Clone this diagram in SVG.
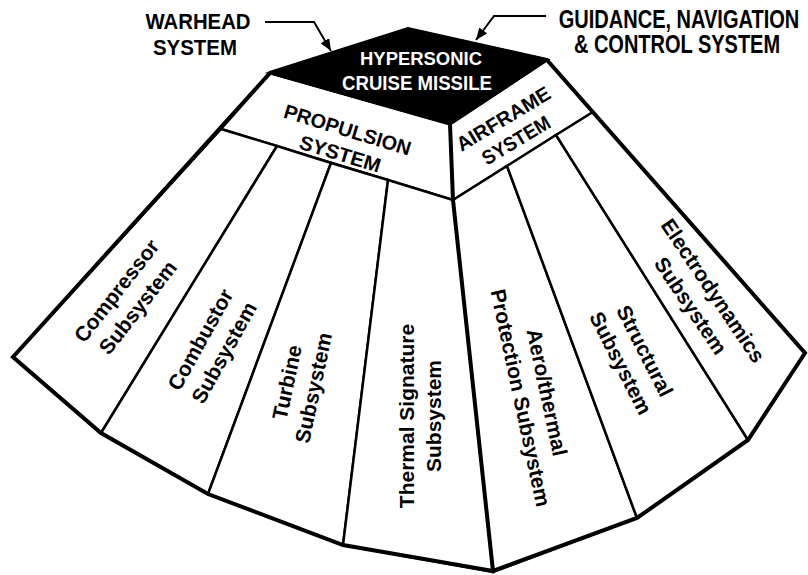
<svg xmlns="http://www.w3.org/2000/svg" width="808" height="575" viewBox="0 0 808 575">
<defs>
<style>
.region{fill:#fff;stroke:#000;stroke-width:2.5;stroke-linejoin:miter}
.hd{font-family:"Liberation Sans",Arial,sans-serif;font-weight:bold;fill:#000;text-anchor:middle}
.sub{font-family:"Liberation Sans",Arial,sans-serif;font-weight:bold;font-size:21px;fill:#000;text-anchor:middle}
.conn{fill:none;stroke:#000;stroke-width:2}
</style>
<marker id="ah" markerUnits="userSpaceOnUse" markerWidth="14" markerHeight="12" refX="12" refY="5" orient="auto">
<path d="M0,0 L12,5 L0,10 Z" fill="#000"/>
</marker>
</defs>
<rect width="808" height="575" fill="#fff"/>

<g id="propulsion">
<polygon class="region" points="270,73 450,124 453,200 221,129"/>
<g transform="translate(342,148) rotate(17)">
<text class="hd" font-size="20" x="0" y="-12" textLength="132" lengthAdjust="spacingAndGlyphs">PROPULSION</text>
<text class="hd" font-size="20" x="0" y="13" textLength="84" lengthAdjust="spacingAndGlyphs">SYSTEM</text>
</g>
</g>
<g id="airframe">
<polygon class="region" points="450,124 547,60 593,112 453,200"/>
<g transform="translate(513,135) rotate(-31)">
<text class="hd" font-size="20" x="0" y="-12" textLength="106" lengthAdjust="spacingAndGlyphs">AIRFRAME</text>
<text class="hd" font-size="20" x="0" y="13" textLength="76" lengthAdjust="spacingAndGlyphs">SYSTEM</text>
</g>
</g>
<g id="compressor">
<polygon class="region" points="221,129 277,146 101,433 13,357"/>
<g transform="translate(127,299) rotate(-52)"><text class="sub" y="-6">Compressor</text><text class="sub" y="21">Subsystem</text></g>
</g>
<g id="combustor">
<polygon class="region" points="277,146 331,163 208,494 101,433"/>
<g transform="translate(212,346) rotate(-61)"><text class="sub" y="-6">Combustor</text><text class="sub" y="21">Subsystem</text></g>
</g>
<g id="turbine">
<polygon class="region" points="331,163 388,180 343,545 208,494"/>
<g transform="translate(300,385) rotate(-78)"><text class="sub" y="-6">Turbine</text><text class="sub" y="21">Subsystem</text></g>
</g>
<g id="thermal">
<polygon class="region" points="388,180 453,200 493,572 343,545"/>
<g transform="translate(420,416) rotate(-90)"><text class="sub" y="-6">Thermal Signature</text><text class="sub" y="21">Subsystem</text></g>
</g>
<g id="aerothermal">
<polygon class="region" points="453,200 507,166 637,518 493,572"/>
<g transform="translate(534,395) rotate(78)"><text class="sub" y="-6">Aero/thermal</text><text class="sub" y="21">Protection Subsystem</text></g>
</g>
<g id="structural">
<polygon class="region" points="507,166 556,135 748,440 637,518"/>
<g transform="translate(633,357) rotate(63)"><text class="sub" y="-6">Structural</text><text class="sub" y="21">Subsystem</text></g>
</g>
<g id="electrodynamics">
<polygon class="region" points="556,135 593,112 805,353 748,440"/>
<g transform="translate(702,298) rotate(56)"><text class="sub" y="-6">Electrodynamics</text><text class="sub" y="21">Subsystem</text></g>
</g>

<g id="outline" fill="none" stroke="#000" stroke-width="4" stroke-linejoin="miter">
<polygon points="270,73 408,29 547,60 805,353 748,440 637,518 493,571 343,545 208,494 101,433 13,357"/>
<polyline points="450,124 453,200 493,571"/>
</g>

<g id="missile">
<polygon points="270,73 408,29 547,60 450,124" fill="#000" stroke="#000" stroke-width="3" stroke-linejoin="miter"/>
<text class="hd" font-size="19" x="421" y="65" style="fill:#fff" textLength="122" lengthAdjust="spacingAndGlyphs">HYPERSONIC</text>
<text class="hd" font-size="20" x="417" y="90" style="fill:#fff" textLength="150" lengthAdjust="spacingAndGlyphs">CRUISE MISSILE</text>
</g>

<g id="warhead">
<text class="hd" font-size="22" x="198" y="29" textLength="105" lengthAdjust="spacingAndGlyphs">WARHEAD</text>
<text class="hd" font-size="22" x="195" y="55" textLength="84" lengthAdjust="spacingAndGlyphs">SYSTEM</text>
</g>
<g id="gnc">
<text class="hd" font-size="26" transform="translate(679,28) scale(0.77,1)">GUIDANCE, NAVIGATION</text>
<text class="hd" font-size="25" transform="translate(677,53) scale(0.8,1)">&amp; CONTROL SYSTEM</text>
</g>

<g id="connectors">
<path class="conn" d="M265,22 H314 L331,51" marker-end="url(#ah)"/>
<path class="conn" d="M546,16 H494 L476,40" marker-end="url(#ah)"/>
</g>
</svg>
